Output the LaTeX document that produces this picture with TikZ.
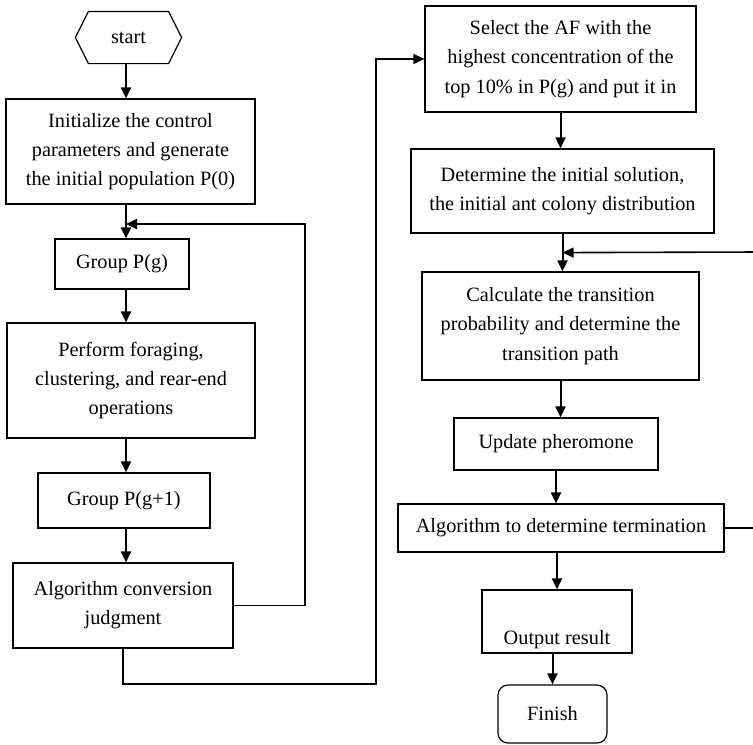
\documentclass[tikz,border=0pt]{standalone}
\usepackage{fontspec}
\setmainfont{Liberation Serif}
\usetikzlibrary{calc,arrows.meta}

\tikzset{
  box/.style={draw, line width=0.6pt, align=center, inner sep=0pt,
    font=\fontsize{10.15}{14.6}\selectfont},
  flow/.style={-{Triangle[length=5.5pt,width=5pt]}, line width=1pt},
  back/.style={-{Triangle[length=5.5pt,width=5pt]}, line width=0.8pt},
}

\begin{document}
\begin{tikzpicture}[x=0.5pt,y=-0.5pt]

    \useasboundingbox (0,0) rectangle (753,744);

    % === Fish swarm part (Left) ===
    \node[box, draw=none, minimum width=52.5pt, minimum height=25.5pt] (start) at (128.5,37.5) {start};
    \draw[line width=0.6pt] (start.west) -- ($(start.north west)+(13,0)$) -- ($(start.north east)+(-13,0)$)
      -- (start.east) -- ($(start.south east)+(-13,0)$) -- ($(start.south west)+(13,0)$) -- cycle;

    \node[box, minimum width=124.5pt, minimum height=52.5pt] (init) at (130.5,151.5)
      {Initialize the control\\parameters and generate\\the initial population P(0)};
    \node[box, minimum width=67pt, minimum height=25pt] (grp) at (122,264) {Group P(g)};
    \node[box, minimum width=124pt, minimum height=57.5pt] (forage) at (131,380.5)
      {Perform foraging,\\clustering, and rear-end\\operations};
    \node[box, minimum width=86pt, minimum height=27.5pt] (grpnext) at (124,500.5) {Group P(g+1)};
    \node[box, minimum width=110pt, minimum height=42.5pt] (conv) at (123,605.5)
      {Algorithm conversion\\judgment};

    % left axis and joints
    \coordinate (lx) at (126,0);
    \coordinate (lj) at (126,224);
    \coordinate (lbend) at (305,224);
    \coordinate (bridge) at (376,684);

    \draw[flow] (start.south -| lx) -- (init.north -| lx);
    \draw[flow] (init.south -| lx) -- (grp.north -| lx);
    \draw[flow] (grp.south -| lx) -- (forage.north -| lx);
    \draw[flow] (forage.south -| lx) -- (grpnext.north -| lx);
    \draw[flow] (grpnext.south -| lx) -- (conv.north -| lx);

    % loop back
    \draw[back] (conv.east) -| (lbend) -- (lj);

    % === Ant colony part (Right) ===
    \node[box, minimum width=135.5pt, minimum height=53pt] (select) at (560.5,59)
      {Select the AF with the\\highest concentration of the\\top 10\% in P(g) and put it in};
    \node[box, minimum width=151.5pt, minimum height=42pt] (antinit) at (562.5,191)
      {Determine the initial solution,\\the initial ant colony distribution};
    \node[box, minimum width=138.5pt, minimum height=54pt] (trans) at (560.5,326)
      {Calculate the transition\\probability and determine the\\transition path};
    \node[box, minimum width=102pt, minimum height=26pt] (update) at (556,444) {Update pheromone};
    \node[box, minimum width=163pt, minimum height=24pt] (term) at (561,528)
      {Algorithm to determine termination};
    \node[box, minimum width=75pt, minimum height=31.5pt] (output) at (557,621.5) {\strut\\Output result};
    \node[box, rounded corners=5pt, minimum width=54.5pt, minimum height=29pt] (finish) at (552.5,714) {Finish};

    \coordinate (rj) at ($(antinit.south)+(0,19)$);
    \coordinate (rbend) at (760,252);

    \draw[flow] (select.south) -- (select.south |- antinit.north);
    \draw[flow] (antinit.south) -- (antinit.south |- trans.north);
    \draw[flow] (trans.south) -- (trans.south |- update.north);
    \draw[flow] (update.south) -- (update.south |- term.north);
    \draw[flow] (output.north |- term.south) -- (output.north);
    \draw[flow] (finish.north |- output.south) -- (finish.north);

    % loop back
    \draw[back] (term.east) -| (rbend) -- (rj);

    % === Link between the two parts ===
    \draw[back] (conv.south) |- (bridge) |- (select.west);

\end{tikzpicture}
\end{document}
